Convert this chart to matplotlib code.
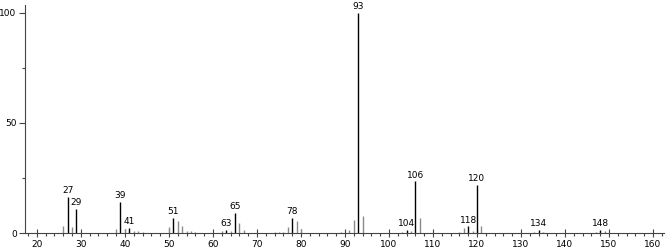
import matplotlib
matplotlib.use('Agg')
import matplotlib.pyplot as plt
from matplotlib.ticker import MultipleLocator

# m/z values and relative intensities
mz = [26, 27, 28, 29, 38, 39, 40, 41, 42, 43, 44,
      50, 51, 52, 53, 54, 55, 56, 62, 63, 64, 65, 66, 67,
      74, 75, 76, 77, 78, 79, 80, 89, 91, 92, 93, 94,
      103, 104, 105, 106, 107, 116, 117, 118, 119, 120, 121,
      133, 134, 135, 147, 148, 149]
intensity = [3, 16.5, 2.5, 11, 2, 14, 2, 2.2, 1, 0.8, 0.4,
             2.5, 7, 5.5, 3, 1, 0.7, 0.3, 0.8, 1.5, 1, 9, 4.5, 1.2,
             0.3, 0.5, 0.5, 2.5, 7, 5.5, 1.8, 0.4, 1.5, 6, 100, 7.5,
             0.5, 1.5, 1, 23.5, 7, 0.5, 2.2, 3, 1, 22, 3,
             0.5, 1.5, 0.5, 0.5, 1.5, 0.8]
labelled = [27, 29, 39, 41, 51, 63, 65, 78, 93, 104, 106, 118, 120, 134, 148]

fig = plt.figure(figsize=(6.67, 2.49), dpi=100)
ax = fig.add_axes([25 / 667, 16 / 249, 639 / 667, 228 / 249])

colors = ['black' if m in labelled else '#8a8a8a' for m in mz]
ax.vlines(mz, 0, intensity, colors=colors, linewidth=1)

for m, v in zip(mz, intensity):
    if m in labelled:
        ax.text(m, v + 0.8, str(m), ha='center', va='bottom', fontsize=6.5)

ax.set_xlim(17.3, 162.5)
ax.set_ylim(0, 103.6)
ax.xaxis.set_major_locator(MultipleLocator(10))
ax.xaxis.set_minor_locator(MultipleLocator(2))
ax.yaxis.set_major_locator(MultipleLocator(50))
ax.yaxis.set_minor_locator(MultipleLocator(25))
ax.tick_params(axis='both', which='major', labelsize=6.5, length=4, width=0.8, pad=2, color='#444444')
ax.tick_params(axis='both', which='minor', length=2, width=0.8, color='#444444')
ax.tick_params(axis='x', which='major', direction='inout', length=6)

for s in ['top', 'right']:
    ax.spines[s].set_visible(False)
for s in ['left', 'bottom']:
    ax.spines[s].set_color('#444444')
    ax.spines[s].set_linewidth(0.8)

fig.savefig('out.png', dpi=100)
